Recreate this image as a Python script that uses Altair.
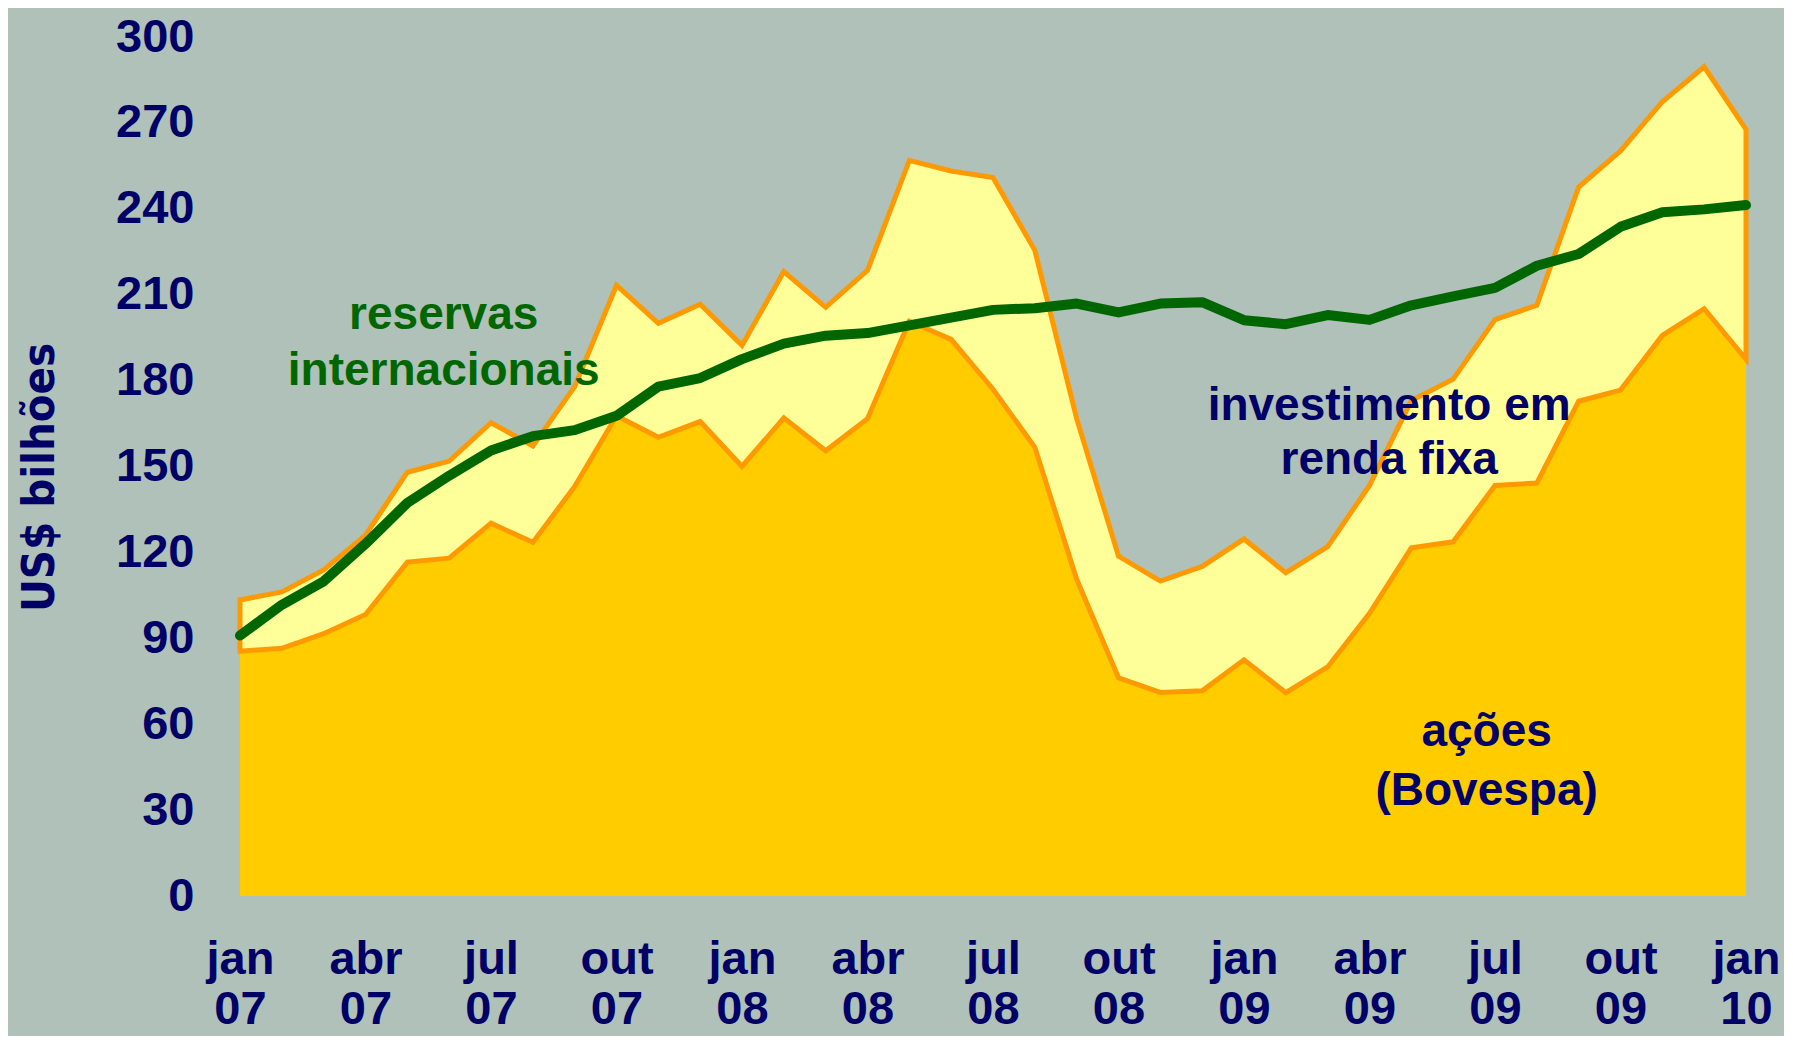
import altair as alt
import pandas as pd

# month index 0 = jan 07 ... 36 = jan 10
months = list(range(37))

acoes = [85.5, 86.5, 91.6, 98.3, 116.6, 118.0, 130.2, 123.5, 143.0, 167.7,
         160.2, 165.7, 150.0, 167.0, 155.5, 166.7, 200.7, 194.4, 177.0, 156.7,
         110.6, 76.2, 71.1, 71.7, 82.5, 71.0, 80.0, 98.7, 121.6, 123.7,
         143.4, 144.2, 172.8, 176.7, 195.8, 205.1, 187.4]

renda_fixa = [17.9, 19.7, 22.3, 27.7, 31.4, 33.9, 35.1, 33.7, 34.9, 45.6,
              39.8, 41.0, 42.3, 51.1, 50.1, 51.8, 56.2, 58.8, 73.9, 68.8,
              56.1, 42.5, 38.9, 43.4, 42.2, 41.9, 42.0, 44.7, 51.4, 56.8,
              57.9, 62.1, 74.8, 83.5, 81.6, 84.5, 80.3]

reservas = [91.0, 101.7, 109.9, 123.0, 137.3, 146.8, 155.6, 160.6, 162.7, 167.7,
            177.9, 180.9, 187.5, 192.9, 195.7, 196.6, 199.3, 202.0, 204.7, 205.3,
            206.9, 203.8, 206.9, 207.4, 201.1, 199.7, 202.9, 201.2, 206.3, 209.4,
            212.4, 220.1, 224.2, 233.7, 238.8, 239.8, 241.3]

tick_pos = list(range(0, 37, 3))
tick_top = ["jan", "abr", "jul", "out"] * 3 + ["jan"]
tick_bottom = ["07"] * 4 + ["08"] * 4 + ["09"] * 4 + ["10"]

y_ticks = list(range(0, 301, 30))

ann_text = ["reservas", "internacionais", "investimento em", "renda fixa", "ações", "(Bovespa)"]
ann_x = [4.87, 4.87, 27.47, 27.47, 29.8, 29.8]
ann_y = [203.0, 183.2, 171.3, 152.4, 57.4, 36.8]
ann_color = ["#006600", "#006600", "#000066", "#000066", "#000066", "#000066"]

NAVY = "#000066"
FONT = "Liberation Sans"

df = pd.DataFrame({"m": months, "acoes": acoes, "rf": renda_fixa, "res": reservas})
df["total"] = df["acoes"] + df["rf"]

ann = pd.DataFrame({"t": ann_text, "x": ann_x, "y": ann_y, "c": ann_color})

label_arr = "[" + ",".join(f"['{a}','{b}']" for a, b in zip(tick_top, tick_bottom)) + "]"

x_enc = alt.X(
    "m:Q",
    scale=alt.Scale(domain=[0, 36], nice=False, zero=False),
    axis=alt.Axis(
        values=tick_pos,
        labelExpr=f"{label_arr}[round(datum.value/3)]",
        title=None,
        grid=False,
        ticks=False,
        domain=False,
        labelFont=FONT,
        labelFontWeight="bold",
        labelFontSize=47,
        labelColor=NAVY,
        labelPadding=40,
        labelLineHeight=50,
        labelOverlap=False,
        labelFlush=False,
    ),
)

y_scale = alt.Scale(domain=[0, 300], nice=False)

y_axis = alt.Axis(
    values=y_ticks,
    title="US$ bilhões",
    grid=False,
    ticks=False,
    domain=False,
    labelFont=FONT,
    labelFontWeight="bold",
    labelFontSize=47,
    labelColor=NAVY,
    labelPadding=46,
    titleFont="DejaVu Sans Condensed, Liberation Sans",
    titleFontWeight="bold",
    titleFontSize=45,
    titleColor=NAVY,
    titleAngle=270,
    titleX=-201,
    titleY=440,
    titleAlign="center",
    titleBaseline="middle",
)

base = alt.Chart(df)

acoes_area = base.mark_area(color="#FFCC00", opacity=1).encode(
    x=x_enc,
    y=alt.Y("acoes:Q", scale=y_scale, axis=y_axis),
)

band = base.mark_area(
    fill="#FFFF99", stroke="#FF9900", strokeWidth=5, strokeJoin="miter", opacity=1
).encode(
    x="m:Q",
    y="acoes:Q",
    y2="total:Q",
)

line = base.mark_line(color="#006600", strokeWidth=10, strokeCap="round", strokeJoin="round").encode(
    x="m:Q",
    y="res:Q",
)

texts = alt.Chart(ann).mark_text(
    font=FONT, fontWeight="bold", fontSize=46, align="center", baseline="middle"
).encode(
    x="x:Q",
    y="y:Q",
    text="t:N",
    color=alt.Color("c:N", scale=None),
)

chart = alt.layer(acoes_area, band, line, texts).properties(
    width=1506,
    height=859,
    autosize=alt.AutoSizeParams(type="none"),
    padding={"left": 232, "top": 29, "right": 38, "bottom": 140},
    background="#afc1b9",
).configure_view(stroke=None)

chart.save("out.html", embed_options={"renderer": "svg", "actions": False})
